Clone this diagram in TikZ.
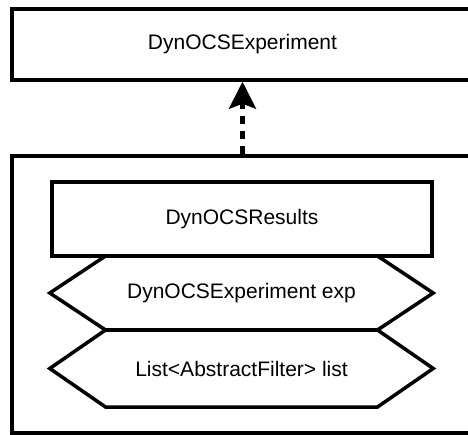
\documentclass[tikz,border=0pt]{standalone}
\usepackage{fontspec}
\setmainfont{Liberation Sans}
\usetikzlibrary{arrows.meta}
\tikzset{
  classbox/.style={draw, line width=3.5pt, fill=white, inner sep=0pt,
    font=\fontsize{21}{25}\selectfont},
  fieldtext/.style={inner sep=0pt, font=\fontsize{21}{25}\selectfont},
  hexline/.style={draw, line width=3.5pt, line join=miter},
  depend/.style={line width=4.5pt, dash pattern=on 8pt off 7pt,
    -{Stealth[length=27pt, width=27pt, inset=5pt]}}
}
\begin{document}
\begin{tikzpicture}[x=1pt, y=1pt]
\useasboundingbox (0,0) rectangle (468,435);
\clip (0,0) rectangle (468,435);
\fill[white] (0,0) rectangle (468,435);

% interface at the top
\node[classbox, minimum width=461pt, minimum height=71pt] (exp) at (242.5,390.5) {DynOCSExperiment};

% enclosing class frame
\node[classbox, minimum width=461pt, minimum height=277pt] (frame) at (242.5,140.5) {};

% class name compartment
\node[classbox, minimum width=380pt, minimum height=74pt] (res) at (242,216) {DynOCSResults};

% field hexagons
\node[fieldtext, minimum width=383pt, minimum height=74pt] (f1) at (241.5,142) {DynOCSExperiment exp};
\node[fieldtext, minimum width=383pt, minimum height=77pt] (f2) at (241.5,66.5) {List<AbstractFilter> list};

\foreach \f in {f1,f2}{
  \draw[hexline] (\f.west) -- ([xshift=56pt]\f.north west) -- ([xshift=-56pt]\f.north east)
    -- (\f.east) -- ([xshift=-56pt]\f.south east) -- ([xshift=56pt]\f.south west) -- cycle;
}

% dependency arrow
\draw[depend] (frame.north) -- (exp.south);
\end{tikzpicture}
\end{document}
